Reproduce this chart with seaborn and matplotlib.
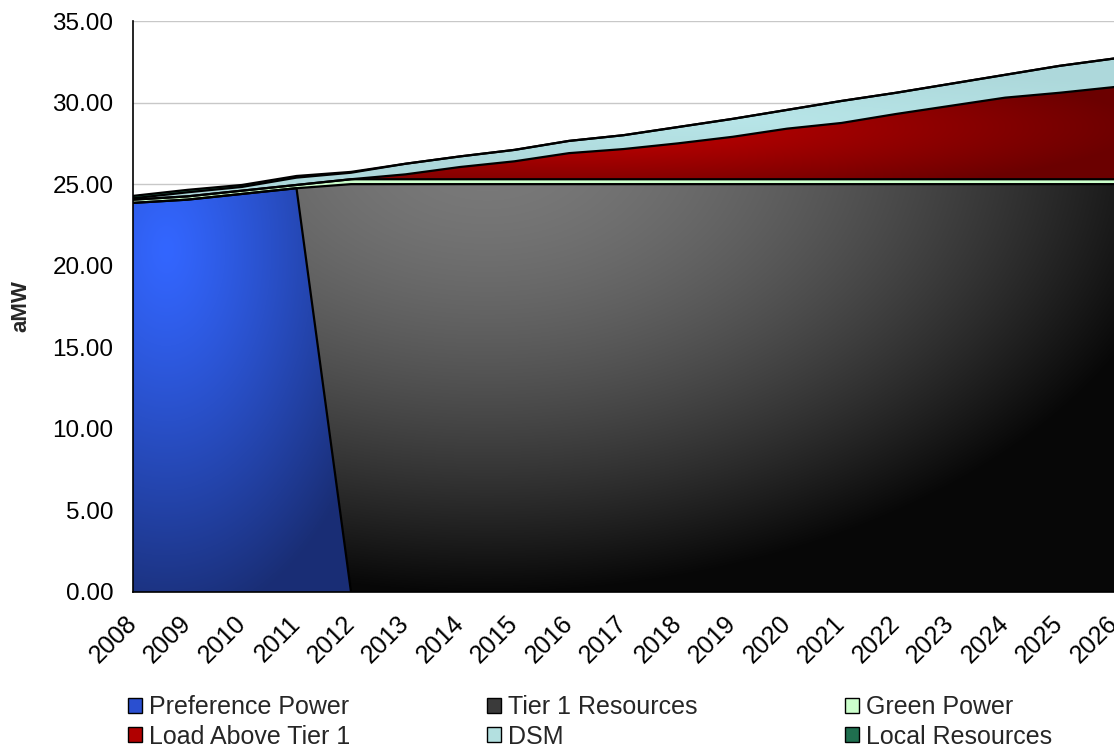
import numpy as np
import pandas as pd
import matplotlib
matplotlib.use("Agg")
import matplotlib.pyplot as plt
import matplotlib.transforms as mtransforms
from matplotlib.patches import Patch
import seaborn as sns

# ---- data (aMW) ----
years = list(range(2008, 2027))
preference_power = [23.85, 24.05, 24.40, 24.75, 0, 0, 0, 0, 0, 0, 0, 0, 0, 0, 0, 0, 0, 0, 0]
tier1_resources = [0, 0, 0, 0, 25.0, 25.0, 25.0, 25.0, 25.0, 25.0, 25.0, 25.0, 25.0, 25.0, 25.0,
                   25.0, 25.0, 25.0, 25.0]
green_power = [0.20, 0.20, 0.20, 0.20, 0.30, 0.30, 0.30, 0.30, 0.30, 0.30, 0.30, 0.30, 0.30, 0.30,
               0.30, 0.30, 0.30, 0.30, 0.30]
load_above_tier1 = [0, 0, 0, 0, 0, 0.30, 0.75, 1.10, 1.60, 1.85, 2.20, 2.60, 3.10, 3.45, 4.00,
                    4.50, 5.00, 5.30, 5.65]
dsm = [0.08, 0.25, 0.23, 0.45, 0.40, 0.65, 0.65, 0.70, 0.75, 0.85, 1.00, 1.10, 1.15, 1.35, 1.30,
       1.35, 1.40, 1.65, 1.75]
local_resources = [0.15, 0.15, 0.12, 0.10, 0.05, 0, 0, 0, 0, 0, 0, 0, 0, 0, 0, 0, 0, 0, 0]

series_names = ["Preference Power", "Tier 1 Resources", "Green Power",
                "Load Above Tier 1", "DSM", "Local Resources"]
series_values = [preference_power, tier1_resources, green_power,
                 load_above_tier1, dsm, local_resources]

sns.set_theme(style="white")
plt.rcParams["font.family"] = ["Liberation Sans", "DejaVu Sans"]

fig = plt.figure(figsize=(11.14, 7.48), dpi=100)
ax = fig.add_axes([133 / 1114, 1 - 592 / 748, 1 - 133 / 1114, (592 - 21) / 748])

x = np.array(years, dtype=float)
vals = np.array(series_values, dtype=float)
tops = np.cumsum(vals, axis=0)
bottoms = np.vstack([np.zeros_like(x), tops[:-1]])

# ---- gradient fills ----
X0, X1, Y0, Y1 = 2008, 2026, 0, 35
gx, gy = np.meshgrid(np.linspace(X0, X1, 600), np.linspace(Y0, Y1, 500))


def radial(cx, cy, sx, sy, c_in, c_out, power=1.0):
    d = np.clip(np.sqrt(((gx - cx) / sx) ** 2 + ((gy - cy) / sy) ** 2), 0, 1) ** power
    c_in = np.array(c_in)[None, None, :]
    c_out = np.array(c_out)[None, None, :]
    return c_in * (1 - d[..., None]) + c_out * d[..., None]


def solid(c):
    rgb = np.array(matplotlib.colors.to_rgb(c))
    return np.broadcast_to(rgb, gx.shape + (3,)).copy()


fills = [
    radial(2008.6, 21.0, 4.2, 23.0, (0.20, 0.40, 1.00), (0.10, 0.18, 0.46), 1.2),
    radial(2014.5, 27.0, 13.0, 27.0, (0.48, 0.48, 0.48), (0.03, 0.03, 0.03), 1.6),
    solid("#ccffcc"),
    radial(2016.0, 28.5, 10.5, 4.5, (0.80, 0.0, 0.0), (0.42, 0.0, 0.0)),
    radial(2019.0, 29.0, 10.0, 3.0, (0.72, 0.90, 0.91), (0.68, 0.85, 0.86)),
    solid("#1f6f4f"),
]

for lo, hi, img in zip(bottoms, tops, fills):
    poly = ax.fill_between(x, lo, hi, facecolor="none", edgecolor="none", linewidth=0)
    im = ax.imshow(img, extent=(X0, X1, Y0, Y1), origin="lower", aspect="auto",
                   interpolation="bilinear", zorder=1)
    im.set_clip_path(poly.get_paths()[0], transform=ax.transData)

# ---- black boundary lines on the top of every layer ----
lines = pd.DataFrame({
    "year": np.tile(x, len(series_names)),
    "value": tops.ravel(),
    "layer": np.repeat(series_names, len(x)),
})
sns.lineplot(data=lines, x="year", y="value", units="layer", estimator=None,
             color="black", linewidth=1.6, legend=False, ax=ax, zorder=3)

# ---- axes styling ----
ax.set_xlim(X0, X1)
ax.set_ylim(Y0, Y1)
ax.set_yticks(np.arange(0, 35.01, 5))
ax.set_yticklabels([f"{v:.2f}" for v in np.arange(0, 35.01, 5)])
ax.set_xticks(years)
ax.set_xticklabels([str(y) for y in years], rotation=45, ha="right", va="center",
                   rotation_mode="anchor")
shift = mtransforms.ScaledTranslation(-5 / 100, -2 / 100, fig.dpi_scale_trans)
for lab in ax.get_xticklabels():
    lab.set_transform(lab.get_transform() + shift)
ax.yaxis.grid(True, color="#c8c8c8", linewidth=1.0, zorder=0)
ax.set_axisbelow(True)
ax.xaxis.grid(False)
for side in ("top", "right"):
    ax.spines[side].set_visible(False)
for side in ("left", "bottom"):
    ax.spines[side].set_color("black")
    ax.spines[side].set_linewidth(1.2)
    ax.spines[side].set_zorder(4)
ax.tick_params(axis="both", which="major", direction="out", length=6, width=1,
               color="black", labelcolor="black")
ax.tick_params(axis="y", pad=8, labelsize=17.5)
ax.tick_params(axis="x", pad=14, labelsize=18)
ax.set_xlabel("")
ax.set_ylabel("aMW", fontsize=16, fontweight="bold", labelpad=15)

# ---- legend: three columns, two rows ----
legend_colors = ["#2a4fd0", "#3a3a3a", "#ccffcc", "#b00000", "#b3e0e0", "#1f6f4f"]
handles = [Patch(facecolor=c, edgecolor="black", linewidth=1.0) for c in legend_colors]
col_x = [128 / 1114, 487 / 1114, 845 / 1114]
for i, cx in enumerate(col_x):
    fig.legend([handles[i], handles[i + 3]], [series_names[i], series_names[i + 3]],
               loc="upper left", bbox_to_anchor=(cx, 1 - 695 / 748),
               frameon=False, fontsize=18, handlelength=0.55, handleheight=0.55,
               handletextpad=0.3, labelspacing=0.22, borderpad=0, borderaxespad=0)

fig.savefig("out.png", dpi=100)
